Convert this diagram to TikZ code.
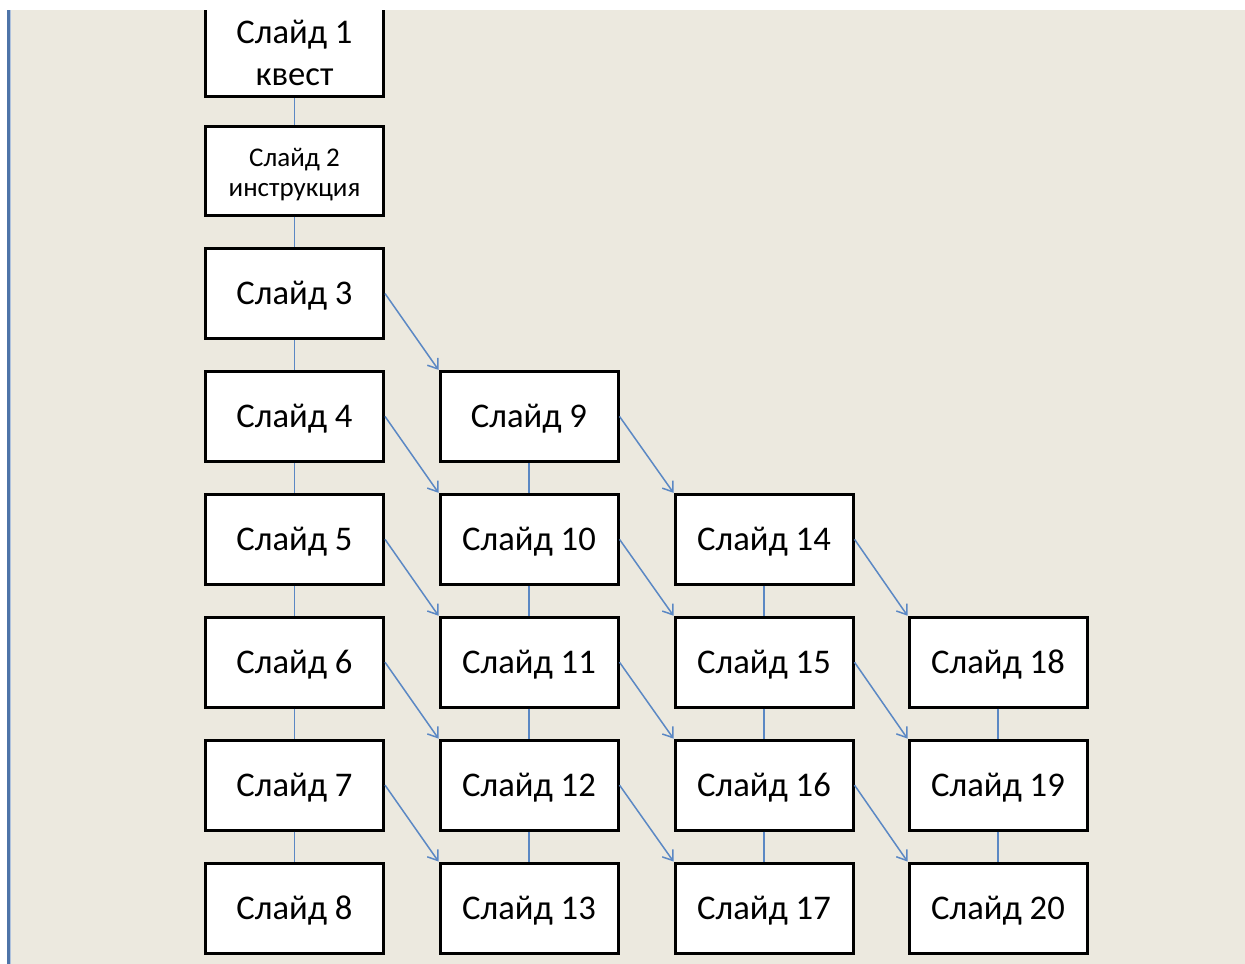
\documentclass[tikz,border=0pt]{standalone}
\usepackage{fontspec}
\setmainfont{Carlito}
\usetikzlibrary{arrows.meta}
\definecolor{pagebg}{HTML}{ECE9DF}
\definecolor{linkblue}{HTML}{5B88C4}
\definecolor{edgeblue}{HTML}{4E74A8}
\definecolor{edgelight}{HTML}{AFC2DD}
\tikzset{
  slide/.style={draw=black, line width=1.5bp, fill=white, minimum width=89bp,
    minimum height=45bp, inner sep=0pt, font=\fontsize{17.3bp}{21bp}\selectfont,
    text height=11bp, text depth=0pt},
  frame/.style={draw=black, line width=1.5bp, fill=white, inner sep=0pt},
  txt/.style={inner sep=0pt, anchor=base},
  link/.style={draw=linkblue, line width=0.8bp},
  jump/.style={draw=linkblue, line width=0.75bp, -{Straight Barb[length=4.5bp,width=6.5bp,line width=0.75bp]}}
}
\begin{document}
\begin{tikzpicture}[x=0.5bp, y=-0.5bp]
  \useasboundingbox (0,0) rectangle (1245,963);
  % page background
  \fill[pagebg] (-10,-10) rectangle (1255,973);
  % first slide box (its top runs off under the white strip)
  \node[frame, minimum width=89bp, minimum height=50.75bp] (s1) at (294.5,45.75) {};
  \node[txt, font=\fontsize{17.3bp}{21bp}\selectfont] (s1a) at (294.5,43) {Слайд 1};
  \node[txt, font=\fontsize{17.3bp}{21bp}\selectfont] (s1b) at (294.5,85) {квест};
  % second slide box with smaller text
  \node[frame, minimum width=89bp, minimum height=44.5bp] (s2) at (294.5,170.5) {};
  \node[txt, font=\fontsize{13.5bp}{16bp}\selectfont] (s2a) at (294.5,166) {Слайд 2};
  \node[txt, font=\fontsize{13.5bp}{16bp}\selectfont] (s2b) at (294.5,196.5) {инструкция};
  % slide grid
  \def\ca{294.5}\def\cb{529}\def\cc{764}\def\cd{998}
  \node[slide] (s3) at (\ca,293.5) {Слайд 3};
  \node[slide] (s4) at (\ca,416.4) {Слайд 4};
  \node[slide] (s5) at (\ca,539.3) {Слайд 5};
  \node[slide] (s6) at (\ca,662.2) {Слайд 6};
  \node[slide] (s7) at (\ca,785.1) {Слайд 7};
  \node[slide] (s8) at (\ca,908) {Слайд 8};
  \node[slide] (s9) at (\cb,416.4) {Слайд 9};
  \node[slide] (s10) at (\cb,539.3) {Слайд 10};
  \node[slide] (s11) at (\cb,662.2) {Слайд 11};
  \node[slide] (s12) at (\cb,785.1) {Слайд 12};
  \node[slide] (s13) at (\cb,908) {Слайд 13};
  \node[slide] (s14) at (\cc,539.3) {Слайд 14};
  \node[slide] (s15) at (\cc,662.2) {Слайд 15};
  \node[slide] (s16) at (\cc,785.1) {Слайд 16};
  \node[slide] (s17) at (\cc,908) {Слайд 17};
  \node[slide] (s18) at (\cd,662.2) {Слайд 18};
  \node[slide] (s19) at (\cd,785.1) {Слайд 19};
  \node[slide] (s20) at (\cd,908) {Слайд 20};
  % vertical links inside each column
  \foreach \a/\b in {1/2,2/3,3/4,4/5,5/6,6/7,7/8,9/10,10/11,11/12,12/13,14/15,15/16,16/17,18/19,19/20}
    \draw[link] (s\a.south) -- (s\b.north);
  % diagonal jumps to the next column
  \foreach \a/\b in {3/9,4/10,5/11,6/12,7/13,9/14,10/15,11/16,12/17,14/18,15/19,16/20}
    \draw[jump] (s\a.east) -- (s\b.north west);
  % window edges
  \fill[white] (-10,-10) rectangle (1255,10);
  \fill[white] (-10,10) rectangle (7.3,973);
  \fill[edgeblue] (7.3,10) rectangle (10,973);
  \fill[edgelight] (10,10) rectangle (11,973);
\end{tikzpicture}
\end{document}
